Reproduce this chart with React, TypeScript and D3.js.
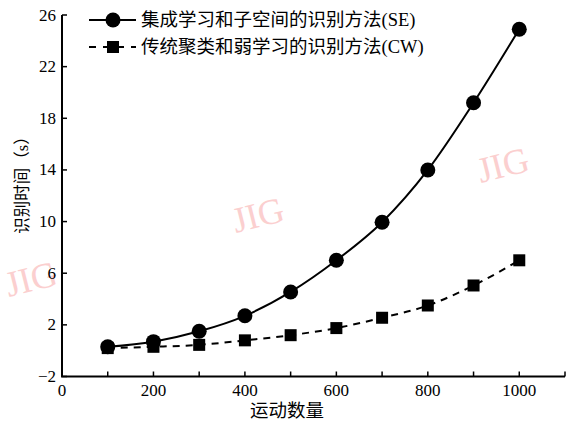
import React, { useRef, useEffect } from "react";
import * as d3 from "d3";

const counts = [100, 200, 300, 400, 500, 600, 700, 800, 900, 1000];
const seTimes = [0.3, 0.7, 1.5, 2.7, 4.55, 7.0, 9.95, 14.0, 19.2, 24.9];
const cwTimes = [0.2, 0.3, 0.45, 0.8, 1.2, 1.75, 2.55, 3.5, 5.05, 7.0];
const yTicks = [-2, 2, 6, 10, 14, 18, 22, 26];
const xLabels = [0, 200, 400, 600, 800, 1000];
const xMinor = [100, 200, 300, 400, 500, 600, 700, 800, 900, 1000, 1100];
const seriesNames = ["集成学习和子空间的识别方法(SE)", "传统聚类和弱学习的识别方法(CW)"];

const W = 575;
const H = 424;
const FONT = "'Liberation Serif', 'Times New Roman', 'Noto Sans CJK SC', serif";

const App = () => {
  const ref = useRef<SVGSVGElement>(null);

  useEffect(() => {
    const svg = d3.select(ref.current);
    svg.selectAll("*").remove();

    const x = d3.scaleLinear().domain([0, 1100]).range([62, 565]);
    const y = d3.scaleLinear().domain([-2, 26]).range([376.5, 15]);

    // watermarks
    const marks = [
      [31, 279],
      [258, 215],
      [503, 165],
    ];
    svg
      .selectAll(".wm")
      .data(marks)
      .join("text")
      .attr("class", "wm")
      .attr("transform", (d) => `translate(${d[0]},${d[1]}) rotate(-14)`)
      .attr("text-anchor", "middle")
      .attr("dominant-baseline", "central")
      .attr("font-family", FONT)
      .attr("font-size", 36)
      .attr("fill", "#fbcfcf")
      .text("JIG");

    // y axis
    const yAxis = svg.append("g").attr("transform", `translate(${x(0)},0)`);
    yAxis
      .append("line")
      .attr("y1", y(-2))
      .attr("y2", y(26))
      .attr("stroke", "#000")
      .attr("stroke-width", 2);
    yAxis
      .selectAll(".yt")
      .data(yTicks)
      .join("line")
      .attr("x1", 0)
      .attr("x2", 5)
      .attr("y1", (d) => y(d))
      .attr("y2", (d) => y(d))
      .attr("stroke", "#000")
      .attr("stroke-width", 1.5);
    yAxis
      .selectAll(".yl")
      .data(yTicks)
      .join("text")
      .attr("x", -6)
      .attr("y", (d) => y(d))
      .attr("text-anchor", "end")
      .attr("dominant-baseline", "central")
      .attr("font-family", FONT)
      .attr("font-size", 17)
      .text((d) => (d < 0 ? "\u2212" + Math.abs(d) : String(d)));

    // x axis
    const xAxis = svg.append("g").attr("transform", `translate(0,${y(-2)})`);
    xAxis
      .append("line")
      .attr("x1", x(0) - 1)
      .attr("x2", x(1100))
      .attr("stroke", "#000")
      .attr("stroke-width", 2);
    xAxis
      .selectAll(".xt")
      .data(xMinor)
      .join("line")
      .attr("x1", (d) => x(d))
      .attr("x2", (d) => x(d))
      .attr("y1", 0)
      .attr("y2", -5)
      .attr("stroke", "#000")
      .attr("stroke-width", 1.5);
    xAxis
      .selectAll(".xl")
      .data(xLabels)
      .join("text")
      .attr("x", (d) => x(d))
      .attr("y", 19)
      .attr("text-anchor", "middle")
      .attr("font-family", FONT)
      .attr("font-size", 17)
      .text((d) => String(d));

    svg
      .append("text")
      .attr("x", 287)
      .attr("y", 417)
      .attr("text-anchor", "middle")
      .attr("font-family", FONT)
      .attr("font-size", 18.5)
      .text("运动数量");

    svg
      .append("text")
      .attr("transform", "translate(28,181) rotate(-90)")
      .attr("text-anchor", "middle")
      .attr("font-family", FONT)
      .attr("font-size", 16.5)
      .text("识别时间（s）");

    const line = d3
      .line<number>()
      .x((_, i) => x(counts[i]))
      .y((d) => y(d))
      .curve(d3.curveMonotoneX);

    svg
      .append("path")
      .attr("d", line(seTimes))
      .attr("fill", "none")
      .attr("stroke", "#000")
      .attr("stroke-width", 2);
    svg
      .append("path")
      .attr("d", line(cwTimes))
      .attr("fill", "none")
      .attr("stroke", "#000")
      .attr("stroke-width", 2)
      .attr("stroke-dasharray", "7,6");

    svg
      .selectAll(".se")
      .data(seTimes)
      .join("circle")
      .attr("cx", (_, i) => x(counts[i]))
      .attr("cy", (d) => y(d))
      .attr("r", 7.5)
      .attr("fill", "#000");
    svg
      .selectAll(".cw")
      .data(cwTimes)
      .join("rect")
      .attr("x", (_, i) => x(counts[i]) - 6)
      .attr("y", (d) => y(d) - 6)
      .attr("width", 12)
      .attr("height", 12)
      .attr("fill", "#000");

    // legend
    const lg = svg.append("g");
    lg.append("line")
      .attr("x1", 89)
      .attr("x2", 136)
      .attr("y1", 20)
      .attr("y2", 20)
      .attr("stroke", "#000")
      .attr("stroke-width", 2);
    lg.append("circle").attr("cx", 113).attr("cy", 20).attr("r", 7.5).attr("fill", "#000");
    lg.append("line")
      .attr("x1", 89)
      .attr("x2", 136)
      .attr("y1", 47)
      .attr("y2", 47)
      .attr("stroke", "#000")
      .attr("stroke-width", 2)
      .attr("stroke-dasharray", "7,7");
    lg.append("rect").attr("x", 107).attr("y", 41).attr("width", 12).attr("height", 12).attr("fill", "#000");
    lg.selectAll(".lt")
      .data(seriesNames)
      .join("text")
      .attr("x", 141)
      .attr("y", (_, i) => 20 + i * 27)
      .attr("dominant-baseline", "central")
      .attr("font-family", FONT)
      .attr("font-size", 18.5)
      .text((d) => d);
  }, []);

  return (
    <svg
      ref={ref}
      width={W}
      height={H}
      style={{ position: "absolute", left: 0, top: 0, background: "#fff" }}
    />
  );
};

export default App;
